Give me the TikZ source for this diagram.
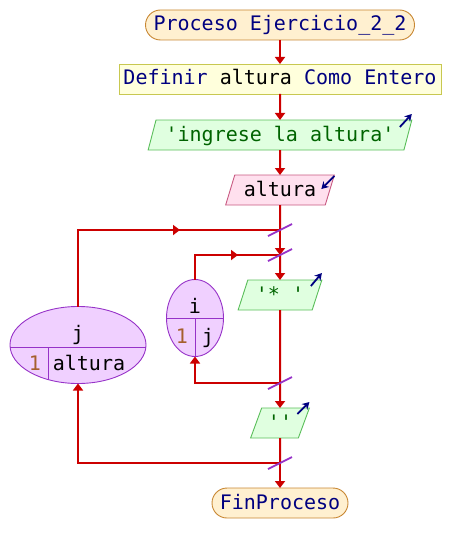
\documentclass[tikz,border=0pt]{standalone}
\usepackage{fontspec}
\setmonofont{DejaVu Sans Mono}
\usetikzlibrary{shapes.geometric, shapes.misc, positioning, arrows.meta, decorations.markings}

\definecolor{flowred}{RGB}{204,0,0}
\definecolor{navytext}{RGB}{0,0,128}
\definecolor{strgreen}{RGB}{0,100,0}
\definecolor{numbrown}{RGB}{165,95,45}
\definecolor{procfill}{RGB}{255,240,208}
\definecolor{procdraw}{RGB}{200,135,50}
\definecolor{deffill}{RGB}{255,255,220}
\definecolor{defdraw}{RGB}{200,200,80}
\definecolor{outfill}{RGB}{224,255,224}
\definecolor{outdraw}{RGB}{90,190,90}
\definecolor{infill}{RGB}{255,224,238}
\definecolor{indraw}{RGB}{200,90,130}
\definecolor{loopfill}{RGB}{240,208,255}
\definecolor{loopdraw}{RGB}{150,50,200}

\begin{document}
\begin{tikzpicture}[
  x=1pt, y=-1pt,
  font=\fontsize{20}{24}\ttfamily,
  every node/.style={text height=15pt, text depth=3pt, inner sep=0pt, outer sep=0pt},
  proc/.style={rounded rectangle, draw=procdraw, fill=procfill, line width=0.9pt, minimum height=30pt, text=navytext},
  defbox/.style={rectangle, draw=defdraw, fill=deffill, line width=0.9pt, minimum height=30pt, text=navytext},
  outbox/.style={trapezium, trapezium left angle=68, trapezium right angle=112, trapezium stretches=true,
    draw=outdraw, fill=outfill, line width=0.9pt, minimum height=30pt, text=strgreen},
  inbox/.style={trapezium, trapezium left angle=68, trapezium right angle=112, trapezium stretches=true,
    draw=indraw, fill=infill, line width=0.9pt, minimum height=30pt},
  loopvar/.style={ellipse, draw=loopdraw, fill=loopfill, line width=0.9pt, minimum height=77pt},
  flow/.style={draw=flowred, line width=2pt},
  arrow/.style={flow, -{Triangle[length=7pt,width=10pt]}},
  midarrow/.style={flow, postaction={decorate}, decoration={markings,
    mark=at position #1 with {\arrow[flowred]{Triangle[length=7pt,width=10pt]}}}},
  slash/.style={draw=loopdraw, line width=1.8pt},
  iconarrow/.style={draw=navytext, line width=1.8pt, -{Stealth[length=7pt,width=8pt]}}
]
\useasboundingbox (0,0) rectangle (452,553);

% ===== Main column =====
\node[proc, minimum width=269pt] (inicio) at (280,25) {Proceso Ejercicio\_2\_2};

\node[defbox, minimum width=322pt, below=24pt of inicio] (def)
{Definir \textcolor{black}{altura} Como Entero};

\node[outbox, minimum width=264pt, below=26pt of def] (msg) {'ingrese la altura'};

\node[inbox, minimum width=109pt, below=25pt of msg] (leer) {altura};

\coordinate[below=25pt of leer] (jini);
\coordinate[below=25pt of jini] (iini);

\node[outbox, minimum width=84pt, below=25pt of iini] (ast) {'* '};

\coordinate[below=73pt of ast] (ifin);

\node[outbox, minimum width=59pt, below=25pt of ifin] (blank) {''};

\coordinate[below=25pt of blank] (jfin);

\node[proc, minimum width=136pt, below=25pt of jfin] (fin) {FinProceso};

% ===== Loop headers =====
\node[loopvar, minimum width=57pt, path picture={
  \draw[draw=loopdraw, line width=0.9pt]
    (path picture bounding box.west) -- (path picture bounding box.east)
    (path picture bounding box.center) -- (path picture bounding box.south);
  }] (fori) at (195,318) {};
\node (ivar) at ([yshift=11pt]fori.center) {i};
\node[text=numbrown] (istart) at ([shift={(-13pt,-19pt)}]fori.center) {1};
\node (iend) at ([shift={(13pt,-19pt)}]fori.center) {j};

\node[loopvar, minimum width=136pt, path picture={
  \draw[draw=loopdraw, line width=0.9pt]
    ([yshift=-2pt]path picture bounding box.west) -- ([yshift=-2pt]path picture bounding box.east)
    ([shift={(-30pt,-2pt)}]path picture bounding box.center) -- ([xshift=-30pt]path picture bounding box.south);
  }] (forj) at (78,345) {};
\node (jvar) at ([yshift=11pt]forj.center) {j};
\node[text=numbrown] (jstart) at ([shift={(-43pt,-19pt)}]forj.center) {1};
\node (jend) at ([shift={(11pt,-19pt)}]forj.center) {altura};

% ===== Main flow =====
\draw[arrow] (inicio) -- (def);
\draw[arrow] (def) -- (msg);
\draw[arrow] (msg) -- (leer);
\draw[flow] (leer) -- (jini);
\draw[arrow] (jini) -- (iini);
\draw[arrow] (iini) -- (ast);
\draw[flow] (ast) -- (ifin);
\draw[arrow] (ifin) -- (blank);
\draw[flow] (blank) -- (jfin);
\draw[arrow] (jfin) -- (fin);

% ===== Loops =====
\draw[midarrow=-100pt] (forj.north) |- (jini);
\draw[midarrow=-42pt] (fori.north) |- (iini);
\draw[arrow] (ifin) -| (fori.south);
\draw[arrow] (jfin) -| (forj.south);

\foreach \j in {jini, iini, ifin, jfin}
  \draw[slash] ([shift={(-12,6)}]\j) -- ([shift={(12,-6)}]\j);

% ===== In/out marks =====
\draw[iconarrow] ([shift={(-12,7)}]msg.top right corner) -- ++(12,-13);
\draw[iconarrow] ([shift={(-11,6)}]ast.top right corner) -- ++(11,-13);
\draw[iconarrow] ([shift={(-12,6)}]blank.top right corner) -- ++(12,-12);
\draw[iconarrow] ([shift={(0,1)}]leer.top right corner) -- ++(-13,13);

\end{tikzpicture}
\end{document}
